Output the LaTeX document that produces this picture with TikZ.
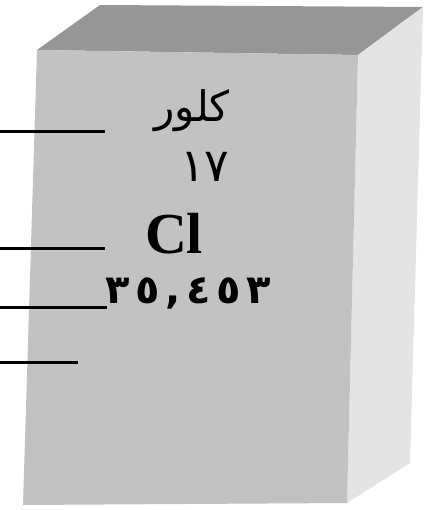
\documentclass[tikz,border=0pt]{standalone}
\usepackage{fontspec}
\setmainfont{Liberation Serif}
\newfontfamily\arabicfont[Script=Arabic]{DejaVu Sans}
\TeXXeTstate=1
\definecolor{frontgray}{RGB}{194,194,194}
\definecolor{topgray}{RGB}{150,150,150}
\definecolor{sidegray}{RGB}{228,228,228}
\begin{document}
\begin{tikzpicture}[x=1pt, y=-1pt,
      label/.style={inner sep=0pt, anchor=base},
      pointer/.style={line width=3pt, black}
    ]
    \useasboundingbox (0,0) rectangle (433,510);
    % faces of the box
    \fill[topgray]   (37,50) -- (100,5) -- (423,7) -- (358,55) -- cycle;
    \fill[sidegray]  (358,55) -- (423,7) -- (410,463) -- (347,503) -- cycle;
    \fill[frontgray] (37,50) -- (358,55) -- (347,503) -- (23,505) -- cycle;
    % texts
    \node[label, font=\arabicfont\fontsize{42}{42}\selectfont] (name) at (192,122) {\beginR كلور\endR};
    \node[label, font=\arabicfont\fontsize{46}{46}\selectfont] (num)  at (205,182) {١٧};
    \node[label, font=\bfseries\fontsize{58}{58}\selectfont]   (sym)  at (174,253) {Cl};
    \node[label, font=\arabicfont\bfseries\fontsize{40}{40}\selectfont\addfontfeature{LetterSpace=14}] (mass) at (188,303) {٣٥,٤٥٣};
    % pointer lines
    \coordinate (a1) at (0,132);   \coordinate (b1) at (105,132);
    \coordinate (a2) at (0,248);   \coordinate (b2) at (105,248);
    \coordinate (a3) at (0,307);   \coordinate (b3) at (107,307);
    \coordinate (a4) at (0,362);   \coordinate (b4) at (78,362);
    \draw[pointer] (a1) -- (b1);
    \draw[pointer] (a2) -- (b2);
    \draw[pointer] (a3) -- (b3);
    \draw[pointer] (a4) -- (b4);
\end{tikzpicture}
\end{document}
